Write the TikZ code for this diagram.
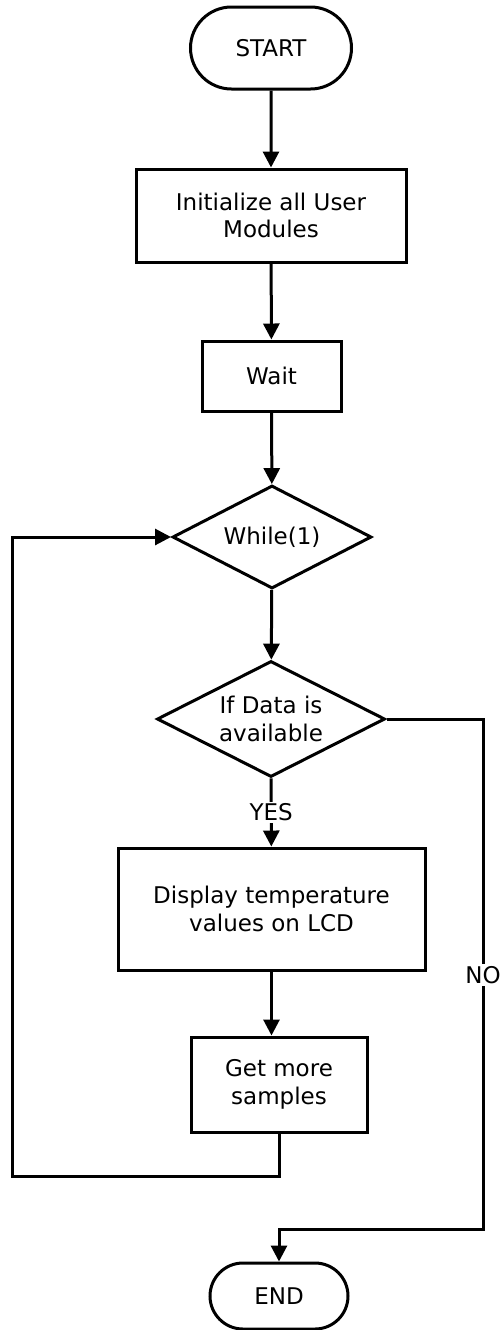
\documentclass[tikz,border=0pt]{standalone}
\usepackage{fontspec}
\setmainfont{DejaVu Sans}
\usepackage{tikz}
\usetikzlibrary{arrows.meta, positioning, shapes.geometric, shapes.misc}

\tikzset{
  termbox/.style={draw, rounded rectangle, line width=1.5pt, inner sep=0pt},
  procbox/.style={draw, rectangle, line width=1.5pt, align=center, inner sep=0pt},
  decbox/.style={draw, diamond, aspect=2, line width=1.5pt, align=center, inner sep=0pt},
  flow/.style={line width=1.5pt, -{Triangle[length=8pt,width=8pt]}},
  lbl/.style={fill=white, inner sep=1pt}
}

\begin{document}
\begin{tikzpicture}[x=0.5pt, y=-0.5pt, every node/.style={font=\fontsize{11.5pt}{13.8pt}\selectfont}]
    \useasboundingbox (0,0) rectangle (500,1330);

    % main column
    \node[termbox, minimum width=80.5pt, minimum height=41pt] (start) at (271,48) {START};
    \node[procbox, minimum width=135pt, minimum height=46.5pt] (init) at (271,215.5) {Initialize all User\\Modules};
    \node[procbox, minimum width=69.5pt, minimum height=35pt] (wait) at (271.5,376) {Wait};
    \node[decbox, minimum width=99.5pt, minimum height=51.5pt] (while) at (272,537) {While(1)};
    \node[decbox, minimum width=114pt, minimum height=58pt] (ifdata) at (271,719) {If Data is\\available};
    \node[procbox, minimum width=153.5pt, minimum height=61pt] (disp) at (271.5,909) {Display temperature\\values on LCD};
    \node[procbox, minimum width=88pt, minimum height=47.5pt] (more) at (279,1084.5) {Get more\\samples};
    \node[termbox, minimum width=69pt, minimum height=33pt] (end) at (279,1296) {END};

    \coordinate (loopcorner) at (12,1176);
    \coordinate (nocorner) at (483,1229);

    \draw[flow] (start) -- (init);
    \draw[flow] (init) -- (wait);
    \draw[flow] (wait) -- (while);
    \draw[flow] (while) -- (ifdata);
    \draw[flow] (ifdata) -- (disp) node[lbl, midway] (yes) {YES};
    \draw[flow] (disp.south) -- (disp.south |- more.north);

    % back to the loop head
    \draw[flow] (more.south) |- (loopcorner) |- (while.west);
    % no data: leave the loop
    \draw[flow] (ifdata.east) -| (nocorner) -| (end.north);
    \node[lbl] (no) at (483,975) {NO};
  \end{tikzpicture}
\end{document}
